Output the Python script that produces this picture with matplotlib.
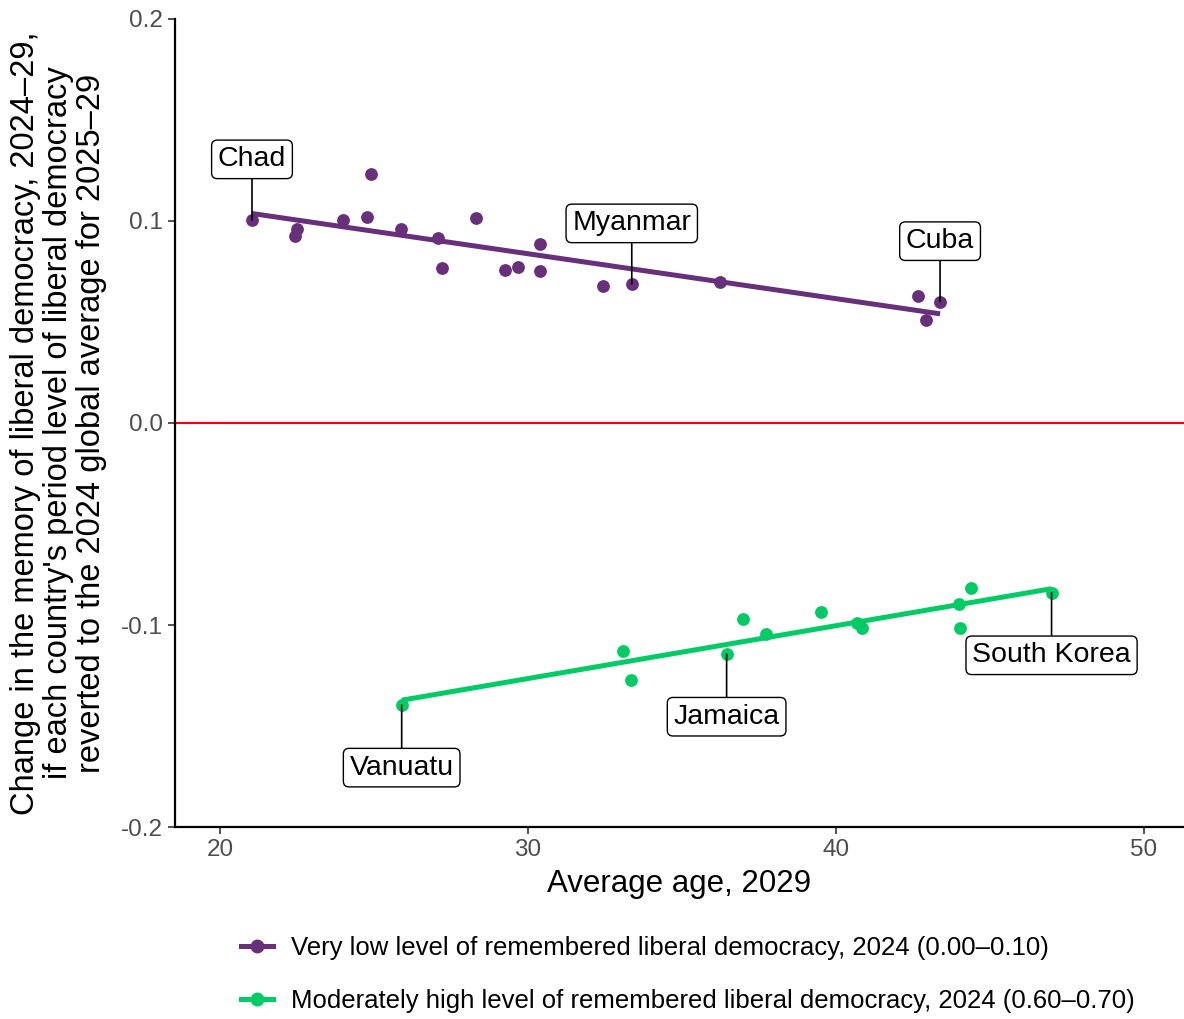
import matplotlib
matplotlib.use('Agg')
import matplotlib.pyplot as plt
import numpy as np
from matplotlib.lines import Line2D

plt.rcParams['font.family'] = ['Liberation Sans', 'DejaVu Sans']

# very low level group (0.00-0.10)
low_age = [21.04, 22.44, 22.5, 23.98, 24.77, 24.89, 25.87, 27.07, 27.2, 28.31,
           29.26, 29.68, 30.39, 30.39, 32.44, 33.37, 36.23, 42.65, 42.91, 43.38]
low_change = [0.1005, 0.0926, 0.096, 0.1005, 0.102, 0.1233, 0.0959, 0.0917, 0.0766, 0.1016,
              0.0757, 0.0774, 0.0885, 0.0752, 0.068, 0.0688, 0.070, 0.063, 0.051, 0.060]

# moderately high group (0.60-0.70)
high_age = [25.9, 33.09, 33.33, 36.45, 36.99, 37.73, 39.51, 40.67, 40.83,
            44.4, 44.0, 44.03, 47.0]
high_change = [-0.1396, -0.1127, -0.1272, -0.1144, -0.097, -0.1045, -0.0937, -0.0989, -0.1016,
               -0.0818, -0.0898, -0.1013, -0.084]

low_labels = {'Chad': 0, 'Myanmar': 15, 'Cuba': 19}
high_labels = {'Vanuatu': 0, 'Jamaica': 3, 'South Korea': 12}

purple = '#68307a'
green = '#00cc66'

fig = plt.figure(figsize=(11.84, 10.19), dpi=100)
ax = fig.add_axes([0.1478, 0.1884, 0.8522, 0.793])

ax.axhline(0, color='red', lw=1.5, zorder=1)

for ages, vals, col in [(low_age, low_change, purple), (high_age, high_change, green)]:
    ax.scatter(ages, vals, s=85, color=col, zorder=3, linewidths=0)
    k, b = np.polyfit(ages, vals, 1)
    xs = np.array([min(ages), max(ages)])
    ax.plot(xs, k * xs + b, color=col, lw=3.6, zorder=2, solid_capstyle='butt')

box = dict(boxstyle='round,pad=0.22,rounding_size=0.2', fc='white', ec='black', lw=1)
for name, i in low_labels.items():
    ax.annotate(name, (low_age[i], low_change[i]), xytext=(low_age[i], low_change[i] + 0.03),
                ha='center', va='center', fontsize=20.5, bbox=box, zorder=4,
                arrowprops=dict(arrowstyle='-', color='black', lw=1.2, shrinkA=0, shrinkB=0))
for name, i in high_labels.items():
    ax.annotate(name, (high_age[i], high_change[i]), xytext=(high_age[i], high_change[i] - 0.031),
                ha='center', va='center', fontsize=20.5, bbox=box, zorder=4,
                arrowprops=dict(arrowstyle='-', color='black', lw=1.2, shrinkA=0, shrinkB=0))

ax.set_xlim(18.54, 51.3)
ax.set_ylim(-0.2, 0.2)
ax.set_xticks([20, 30, 40, 50])
ax.set_yticks([-0.2, -0.1, 0.0, 0.1, 0.2])
ax.set_yticklabels(['-0.2', '-0.1', '0.0', '0.1', '0.2'])
ax.tick_params(labelsize=17.5, labelcolor='#4d4d4d', color='#333333', length=5, width=1.2)
for side in ['top', 'right']:
    ax.spines[side].set_visible(False)
for side in ['left', 'bottom']:
    ax.spines[side].set_linewidth(1.6)

ax.set_xlabel('Average age, 2029', fontsize=22.5, labelpad=6)
ax.set_ylabel("Change in the memory of liberal democracy, 2024\u201329,\n"
              "if each country's period level of liberal democracy\n"
              "reverted to the 2024 global average for 2025\u201329",
              fontsize=23.5, labelpad=10, linespacing=1.1)

handles = [Line2D([], [], color=purple, lw=3.6, marker='o', markersize=9),
           Line2D([], [], color=green, lw=3.6, marker='o', markersize=9)]
fig.legend(handles, ['Very low level of remembered liberal democracy, 2024 (0.00\u20130.10)',
                     'Moderately high level of remembered liberal democracy, 2024 (0.60\u20130.70)'],
           loc='center left', bbox_to_anchor=(0.1838, 0.0437), frameon=False,
           fontsize=18.5, handlelength=1.25, handletextpad=0.7, labelspacing=1.15)

fig.savefig('out.png', dpi=100)
